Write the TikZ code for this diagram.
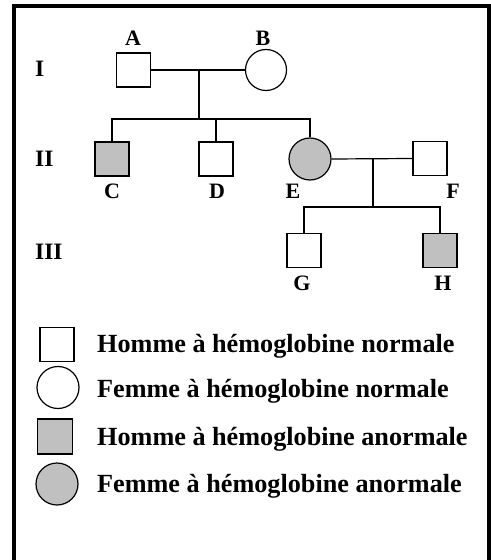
\documentclass[tikz,border=0pt]{standalone}
\usepackage{fontspec}
\setmainfont{Liberation Serif}
\definecolor{affect}{HTML}{C0C0C0}
\begin{document}
\begin{tikzpicture}[x=1bp,y=-1bp,
  male/.style={draw,line width=1.2bp,rectangle,minimum size=34bp,inner sep=0pt},
  female/.style={draw,line width=1.2bp,circle,minimum size=41bp,inner sep=0pt},
  ill/.style={fill=affect},
  link/.style={line width=1.2bp},
  lab/.style={font=\fontsize{22bp}{26bp}\selectfont\bfseries,inner sep=0pt,anchor=base},
  gen/.style={font=\fontsize{23.5bp}{27bp}\selectfont\bfseries,inner sep=0pt,anchor=base west},
  leg/.style={font=\fontsize{26.2bp}{30bp}\selectfont\bfseries,inner sep=0pt,anchor=base west}]
\useasboundingbox (0,0) rectangle (491,560);
\draw[line width=4bp] (14,565) -- (14,6) -- (489,6) -- (489,565);
% generation I
\node[male] (A) at (133.5,70) {};
\node[female] (B) at (266,70) {};
\node[lab] (lA) at (133,45.5) {A};
\node[lab] (lB) at (263,45.5) {B};
% generation II
\node[male,ill] (C) at (112,159) {};
\node[male] (D) at (216,159) {};
\node[female,ill,minimum size=42bp] (E) at (310,159) {};
\node[male] (F) at (430,158.5) {};
\node[lab] (lC) at (112,198.5) {C};
\node[lab] (lD) at (217,198.5) {D};
\node[lab] (lE) at (293,198.5) {E};
\node[lab] (lF) at (453,198.5) {F};
% generation III
\node[male] (G) at (304,250.5) {};
\node[male,ill] (H) at (440,250.5) {};
\node[lab] (lG) at (302,290.5) {G};
\node[lab] (lH) at (443,290.5) {H};
% generation numerals
\node[gen] (g1) at (35,76.5) {I};
\node[gen] (g2) at (35,167) {II};
\node[gen] (g3) at (35,259.5) {III};
% connectors
\coordinate (m1) at (199,70);
\coordinate (s1) at (199,119);
\coordinate (m2) at (373,158.5);
\coordinate (s2) at (373,207);
\draw[link] (A.east) -- (B.west);
\draw[link] (m1) -- (s1);
\draw[link] (C.north) |- (s1) -| (E.north);
\draw[link] (D.north) -- (D.north |- s1);
\draw[link] (E.east) -- (F.west);
\draw[link] (m2) -- (s2);
\draw[link] (G.north) |- (s2) -| (H.north);
% legend
\node[male] (L1) at (57,344.5) {};
\node[female,minimum size=42bp] (L2) at (58,387.5) {};
\node[male,ill,minimum size=35bp] (L3) at (55,436.5) {};
\node[female,ill,minimum size=42bp] (L4) at (57,484) {};
\node[leg] (t1) at (97,352) {Homme à hémoglobine normale};
\node[leg] (t2) at (97,397.5) {Femme à hémoglobine normale};
\node[leg] (t3) at (97,445) {Homme à hémoglobine anormale};
\node[leg] (t4) at (97,492) {Femme à hémoglobine anormale};
\end{tikzpicture}
\end{document}
